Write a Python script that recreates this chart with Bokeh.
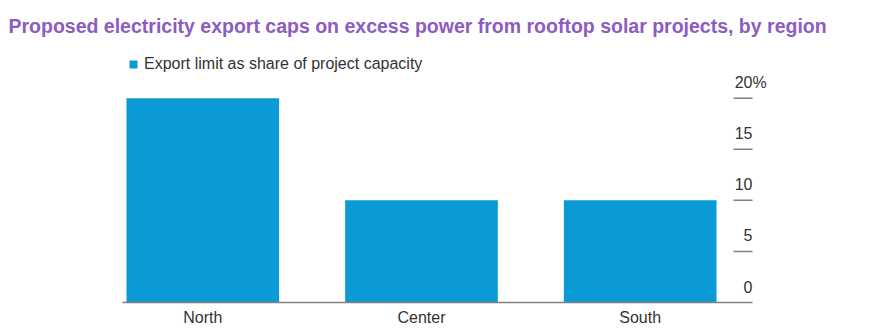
from bokeh.plotting import figure
from bokeh.models import (ColumnDataSource, FixedTicker, LinearAxis, Label, LabelSet,
                          Legend, LegendItem, Range1d)
from bokeh.core.properties import value
from bokeh.embed import file_html
from bokeh.resources import INLINE

# ---- data ----
categories = ["North", "Center", "South"]
export_limit = [20, 10, 10]
series_name = "Export limit as share of project capacity"
y_ticks = [0, 5, 10, 15, 20]
y_tick_labels = ["0", "5", "10", "15", "20%"]
title_text = "Proposed electricity export caps on excess power from rooftop solar projects, by region"

# ---- styling ----
BAR = "#0a9ad6"
PURPLE = "#8c5cc2"
TXT = "#333333"
GRAY = "#808080"
FONT = "Liberation Sans"

W, H = 875, 333
AX_L, AX_R, FB = 122, 752, 302      # baseline extent and bottom, px
C0, STEP = 202.3, 218.7             # first category centre, spacing (px)
PX_PER_UNIT = 10.215


def xd(px):
    return (px - C0) / STEP


y_end = FB / PX_PER_UNIT

p = figure(width=W, height=H, output_backend="svg", toolbar_location=None,
           x_range=Range1d(xd(0), xd(W)), y_range=Range1d(0, y_end),
           min_border_left=0, min_border_right=0, min_border_top=0,
           min_border_bottom=H - FB, title=None, x_axis_location=None, y_axis_location=None)
p.outline_line_color = None
p.background_fill_color = "white"
p.border_fill_color = "white"
p.xgrid.visible = False
p.ygrid.visible = False

idx = list(range(len(categories)))
src = ColumnDataSource(dict(x=idx, top=export_limit, cat=categories))
r = p.vbar(x="x", top="top", width=0.698, source=src, fill_color=BAR, line_color=None)

# x axis (baseline + category labels)
xa = LinearAxis(ticker=FixedTicker(ticks=idx),
                major_label_overrides={i: c for i, c in zip(idx, categories)})
xa.bounds = (xd(AX_L), xd(AX_R))
xa.axis_line_color = GRAY
xa.axis_line_width = 1.5
xa.major_tick_line_color = None
xa.major_tick_out = 0
xa.major_tick_in = 0
xa.minor_tick_line_color = None
xa.major_label_text_font = FONT
xa.major_label_text_font_size = "16px"
xa.major_label_text_color = TXT
xa.major_label_standoff = 6
p.add_layout(xa, "below")

# short tick dashes on the right
tick_src = ColumnDataSource(dict(y=y_ticks[1:]))
p.segment(x0=xd(AX_R - 19), x1=xd(AX_R), y0="y", y1="y", source=tick_src,
          line_color=GRAY, line_width=1.5)

# tick labels above the dashes, numbers right-aligned to the dash end, unit sticking out
nums = [t.rstrip("%") for t in y_tick_labels]
units = [t[len(n):] for t, n in zip(y_tick_labels, nums)]
lab_src = ColumnDataSource(dict(x=[xd(AX_R)] * len(y_ticks), y=y_ticks, num=nums, unit=units))
common = dict(source=lab_src, text_baseline="alphabetic", y_offset=10,
              text_font=value(FONT), text_font_size="16px", text_color=TXT)
p.add_layout(LabelSet(x="x", y="y", text="num", text_align="right", **common))
p.add_layout(LabelSet(x="x", y="y", text="unit", text_align="left", **common))

# title
p.add_layout(Label(x=8, y=FB - 25.5, x_units="screen", y_units="screen", text=title_text,
                   text_font=FONT, text_font_style="bold", text_font_size="19.5px",
                   text_color=PURPLE, text_baseline="alphabetic"))

# legend
leg = Legend(items=[LegendItem(label=series_name, renderers=[r])], location=(AX_L + 6, 229))
leg.glyph_width = 10
leg.glyph_height = 10
leg.label_height = 10
leg.label_standoff = 6
leg.padding = 0
leg.margin = 0
leg.spacing = 0
leg.border_line_color = None
leg.background_fill_alpha = 0
leg.label_text_font = FONT
leg.label_text_font_size = "16px"
leg.label_text_color = TXT
p.add_layout(leg, "center")

open("out.html", "w").write(file_html(p, INLINE))
